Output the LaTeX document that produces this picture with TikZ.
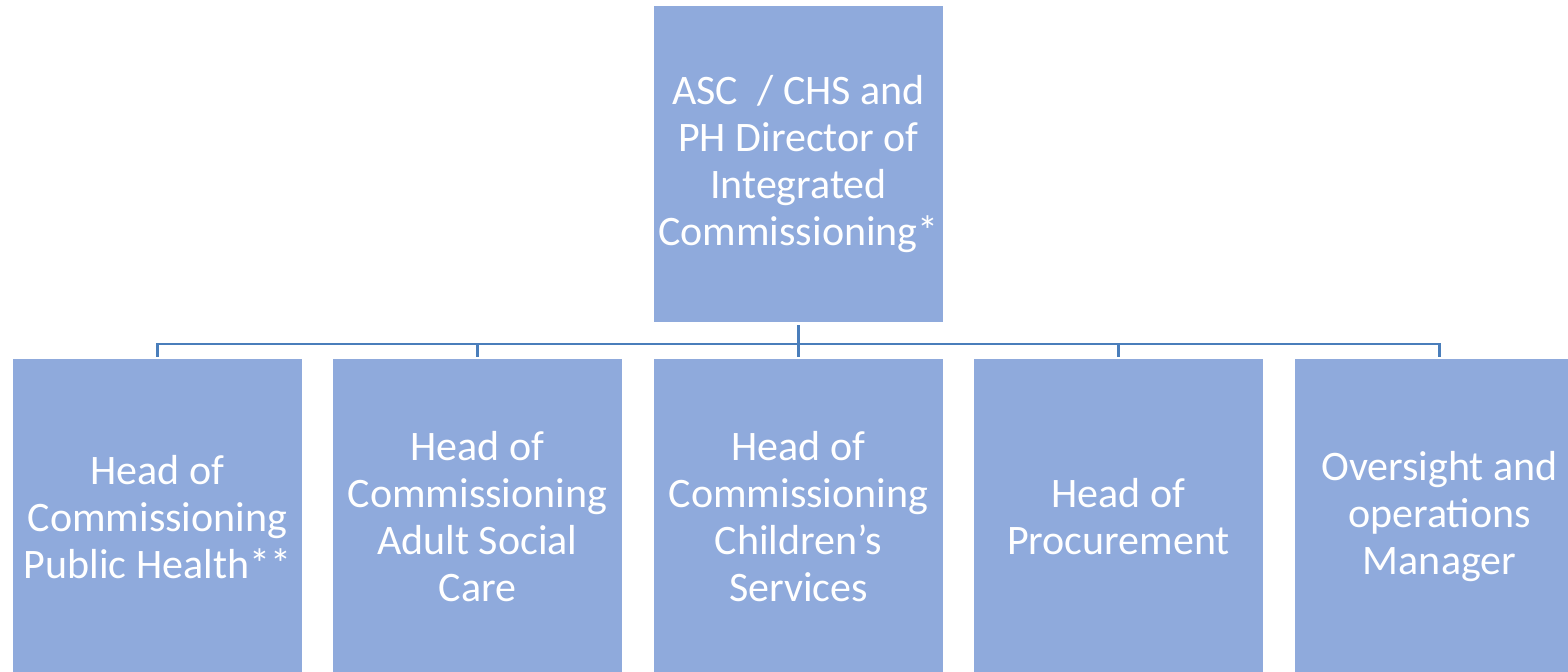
\documentclass[tikz,border=0pt]{standalone}
\usepackage{fontspec}
\setmainfont{Carlito}
\usetikzlibrary{positioning}
\definecolor{boxblue}{HTML}{8FAADC}
\definecolor{linkblue}{HTML}{4A7EBB}

\begin{document}
\begin{tikzpicture}[x=0.5pt, y=-0.5pt,
    post/.style={fill=boxblue, text=white, inner sep=0pt, align=center,
                 minimum width=144.5pt, minimum height=158pt,
                 font=\fontsize{21}{23.5}\selectfont},
    link/.style={draw=linkblue, line width=1.4pt, shorten <=1.5pt, shorten >=1pt}]

    \clip (0,0) rectangle (1568,672);

    % Director
    \node[post] (dir) at (798.5,164) {ASC~ / CHS and\\PH Director of\\Integrated\\Commissioning*};

    % Heads
    \node[post] (ph)   at (157.5,517)  {Head of\\Commissioning\\Public Health**};
    \node[post] (asc)  at (477.5,517)  {Head of\\Commissioning\\Adult Social\\Care};
    \node[post] (chs)  at (798.5,517)  {Head of\\Commissioning\\Children’s\\Services};
    \node[post] (proc) at (1118.5,517) {Head of\\Procurement};
    \node[post] (ops)  at (1439.5,517) {Oversight and\\operations\\Manager};

    % Reporting lines
    \coordinate (bus) at (798.5,344);
    \foreach \n in {ph, asc, chs, proc, ops}
        \draw[link] (dir.south) -- (dir.south |- bus) -| (\n.north);

\end{tikzpicture}
\end{document}
